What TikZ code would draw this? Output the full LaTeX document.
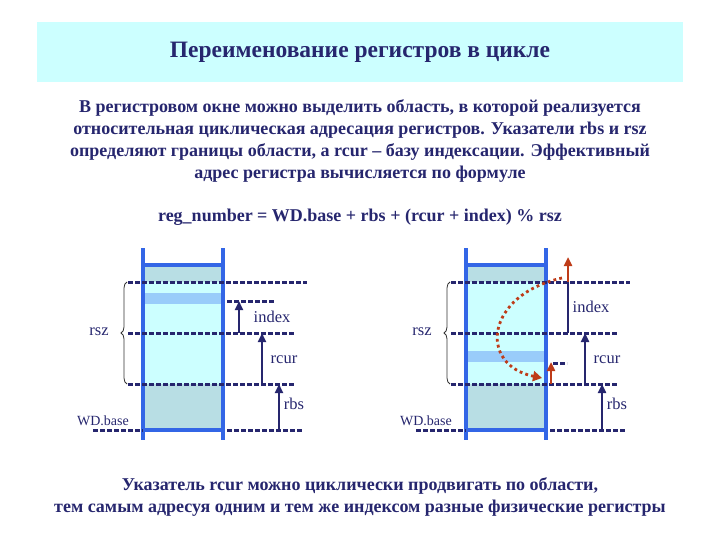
\documentclass[tikz,border=0pt]{standalone}
\usepackage{fontspec}
\setmainfont{Liberation Serif}
\usetikzlibrary{arrows.meta, positioning, calc, decorations.pathreplacing}

\definecolor{navy}{RGB}{38,38,110}
\definecolor{colblue}{RGB}{51,102,230}
\definecolor{cyanlt}{RGB}{204,255,255}
\definecolor{cyangray}{RGB}{184,222,228}
\definecolor{bandblue}{RGB}{153,204,250}
\definecolor{titlebg}{RGB}{204,255,255}
\definecolor{curvered}{RGB}{190,60,25}

\begin{document}
\begin{tikzpicture}[x=1pt, y=-1pt,
  regline/.style={navy, line width=3pt, dash pattern=on 4.5pt off 2.5pt},
  ptr/.style={navy, line width=2.4pt, -{Triangle[length=9pt,width=8pt]}},
  redptr/.style={curvered, line width=2.4pt, -{Triangle[length=9pt,width=8pt]}},
  colline/.style={colblue, line width=3.2pt},
  lbl/.style={navy, font=\fontsize{14}{16}\selectfont, inner sep=1pt},
  plbl/.style={navy, font=\fontsize{16.5}{18}\selectfont, inner sep=1pt},
  txt/.style={navy, align=center, inner sep=0pt, font=\fontsize{18}{21.7}\selectfont\bfseries}]
  \useasboundingbox (0,0) rectangle (720,540);

  % title band
  \fill[titlebg] (37,22) rectangle (683,82);
  \node[navy, font=\fontsize{23.5}{26}\selectfont\bfseries] (title) at (360,52) {Переименование регистров в цикле};

  \node[txt] (intro) at (360,141) {В регистровом окне можно выделить область, в которой реализуется\\
    относительная циклическая адресация регистров. Указатели rbs и rsz\\
    определяют границы области, а rcur -- базу индексации. Эффективный\\
    адрес регистра вычисляется по формуле};
  \node[txt] (formula) at (360,217) {reg\_number = WD.base + rbs + (rcur + index) \% rsz};

  % the two register windows
  \foreach \s/\n in {0/L,323/R}{
    \begin{scope}[xshift=\s]
      \fill[cyangray] (143,265) rectangle (223,282);
      \fill[cyanlt] (143,282) rectangle (223,384);
      \fill[cyangray] (143,384) rectangle (223,430);
      \draw[colline] (143,248) -- (143,440);
      \draw[colline] (223,248) -- (223,440);
      \draw[colline] (143,265) -- (223,265);
      \draw[colline] (143,430) -- (223,430);
      % region boundaries
      \draw[regline] (128,282) -- (307,282);
      \draw[regline] (128,333) -- (295,333);
      \draw[regline] (128,384) -- (295,384);
      \draw[regline] (93,430) -- (143,430);
      \draw[regline] (227,430) -- (303,430);
      \coordinate (\n-btop) at (127,282);
      \coordinate (\n-bbot) at (127,384);
      \draw[black!80, line width=0.8pt, decorate, decoration={brace, amplitude=6pt}] (\n-bbot) -- (\n-btop);
      \node[plbl] (\n-rsz) at (99,332) {rsz};
      % rcur and rbs pointers
      \coordinate (\n-rcur0) at (262,384);
      \coordinate (\n-rcur1) at (262,333);
      \coordinate (\n-rbs0) at (279,430);
      \coordinate (\n-rbs1) at (279,384);
      \draw[ptr] (\n-rcur0) -- (\n-rcur1);
      \draw[ptr] (\n-rbs0) -- (\n-rbs1);
      \node[plbl] (\n-rcur) at (284,360) {rcur};
      \node[plbl] (\n-rbs) at (294,404) {rbs};
      \node[lbl] (\n-base) at (103,421) {WD.base};
    \end{scope}
  }

  % left: register inside the region
  \fill[bandblue] (145,293) rectangle (221,304);
  \draw[regline] (227,301) -- (275,301);
  \coordinate (L-idx0) at (239,333);
  \coordinate (L-idx1) at (239,301);
  \draw[ptr] (L-idx0) -- (L-idx1);
  \node[plbl] (L-index) at (272,317) {index};

  % right: register wrapped round the region
  \fill[bandblue] (468,351) rectangle (544,362);
  \draw[regline] (553,363) -- (567,363);
  \coordinate (R-idx0) at (568,333);
  \coordinate (R-idx1) at (568,282);
  \coordinate (R-idx2) at (568,257);
  \draw[navy, line width=2.4pt] (R-idx0) -- (R-idx1);
  \draw[redptr] (R-idx1) -- (R-idx2);
  \node[plbl] (R-index) at (591,307) {index};
  \coordinate (R-wrap0) at (551,384);
  \coordinate (R-wrap1) at (551,362);
  \draw[redptr] (R-wrap0) -- (R-wrap1);
  \coordinate (R-cstart) at (562,278);
  \coordinate (R-cend) at (542,378);
  \draw[curvered, line width=2.8pt, dash pattern=on 2.8pt off 3.2pt, -{Triangle[length=9pt,width=10pt]}]
    (R-cstart) .. controls (485,295) and (478,365) .. (R-cend);

  \node[txt] (summary) at (360,497) {Указатель rcur можно циклически продвигать по области,\\
    тем самым адресуя одним и тем же индексом разные физические регистры};
\end{tikzpicture}
\end{document}
